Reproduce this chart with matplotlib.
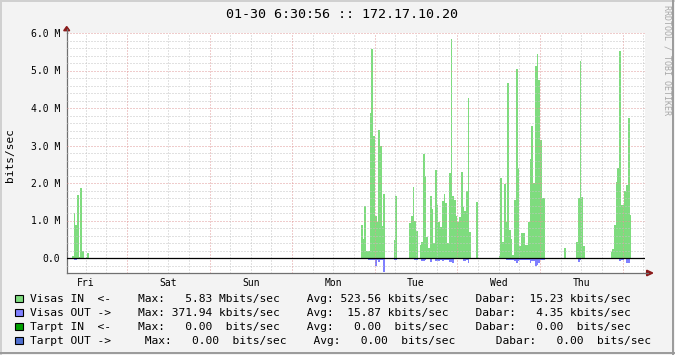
import numpy as np
import matplotlib
matplotlib.use('Agg')
import matplotlib.pyplot as plt
from matplotlib.patches import Rectangle, Polygon
from matplotlib.lines import Line2D

W, H = 675, 355

#------------------------ data: Mbit/s, 30 min averages ------------------------
N_SLOTS = 336                       # 7 days * 48 half hours
STEP_H = 0.5
START_H = 6 + 30/60 + 56/3600       # graph starts at 06:30:56

days = ['Fri', 'Sat', 'Sun', 'Mon', 'Tue', 'Wed', 'Thu']

fri_slot = 3
fri_in  = [0.05, 1.19, 0.88, 1.68, 0.02, 1.88, 0.20, 0.0, 0.02, 0.13]
fri_out = [0.0, 0.04, 0.04, 0.03, 0.0, 0.03, 0.0, 0.0, 0.0, 0.0]

mon_slot = 171
mon_in  = [0.88, 0.52, 1.40, 0.20, 0.20, 3.88, 5.57, 3.25, 1.12, 0.97, 3.41, 3.00, 0.85, 1.70,
           0, 0, 0, 0, 0, 0.48, 1.65]
mon_out = [0.0, 0.0, 0.03, 0.0, 0.05, 0.05, 0.05, 0.05, 0.20, 0.05, 0.10, 0.05, 0.05, 0.37,
           0, 0, 0, 0, 0, 0.04, 0.04]

tue_slot = 199
tue_in  = [0.94, 1.12, 1.90, 1.00, 0.72, 0.0, 0.36, 0.43, 2.77, 2.19, 0.55, 0.28, 1.65, 1.30,
           0.39, 2.34, 1.41, 0.97, 0.84, 1.52, 1.72, 1.48, 0.41, 2.26, 5.84, 1.65, 1.56, 1.12,
           0.97, 1.10, 2.30, 1.37, 1.26, 1.80, 4.27, 0.70, 0, 0, 0, 1.50]
tue_out = [0.03, 0.03, 0.03, 0.05, 0.05, 0.03, 0.03, 0.08, 0.08, 0.05, 0.03, 0.03, 0.10, 0.03,
           0.03, 0.08, 0.08, 0.08, 0.05, 0.08, 0.05, 0.05, 0.05, 0.10, 0.10, 0.14, 0.03, 0.03,
           0.03, 0.03, 0.03, 0.08, 0.08, 0.05, 0.12, 0.03, 0, 0, 0, 0.03]

wed_slot = 251
wed_in  = [0.05, 2.13, 0.43, 1.97, 0.95, 4.68, 0.75, 0.50, 0.09, 1.55, 5.04, 2.40, 0.32, 0.68,
           0.68, 0.35, 0.35, 0.97, 2.64, 3.52, 1.99, 5.12, 5.44, 4.75, 3.15, 1.60, 1.60]
wed_out = [0.03, 0.03, 0.03, 0.03, 0.05, 0.05, 0.05, 0.05, 0.05, 0.08, 0.14, 0.08, 0.05, 0.05,
           0.05, 0.05, 0.05, 0.05, 0.14, 0.08, 0.08, 0.21, 0.19, 0.12, 0.05, 0.05, 0.05]

thu_slot = 289
thu_in  = [0.27, 0, 0, 0, 0, 0, 0, 0.43, 1.61, 5.25, 1.64, 0.32]
thu_out = [0.0, 0, 0, 0, 0, 0, 0, 0.03, 0.10, 0.05, 0.03, 0.0]

thu2_slot = 316
thu2_in  = [0.17, 0.24, 0.89, 2.02, 2.41, 5.52, 1.41, 1.41, 1.79, 1.95, 3.73, 1.15]
thu2_out = [0.03, 0.03, 0.03, 0.03, 0.03, 0.08, 0.05, 0.05, 0.03, 0.12, 0.12, 0.03]

# legend statistics
leg_names = ['Visas IN  <-', 'Visas OUT ->', 'Tarpt IN  <-', 'Tarpt OUT ->']
leg_max = [('5.83', 'Mbits/sec'), ('371.94', 'kbits/sec'), ('0.00', 'bits/sec'), ('0.00', 'bits/sec')]
leg_avg = [('523.56', 'kbits/sec'), ('15.87', 'kbits/sec'), ('0.00', 'bits/sec'), ('0.00', 'bits/sec')]
leg_cur = [('15.23', 'kbits/sec'), ('4.35', 'kbits/sec'), ('0.00', 'bits/sec'), ('0.00', 'bits/sec')]
leg_colors = ['#7EDC7E', '#8080FF', '#00A000', '#5070D0']

title = '01-30 6:30:56 :: 172.17.10.20'

#------------------------ build series ------------------------
visas_in = np.zeros(N_SLOTS)
visas_out = np.zeros(N_SLOTS)
for s, vi, vo in [(fri_slot, fri_in, fri_out), (mon_slot, mon_in, mon_out),
                  (tue_slot, tue_in, tue_out), (wed_slot, wed_in, wed_out),
                  (thu_slot, thu_in, thu_out), (thu2_slot, thu2_in, thu2_out)]:
    visas_in[s:s+len(vi)] = vi
    visas_out[s:s+len(vo)] = vo

edges = np.arange(N_SLOTS + 1) * STEP_H

def fx(x):
    return x / W

def fy(y):
    return 1 - y / H

MONO = 'DejaVu Sans Mono'
plt.rcParams['font.family'] = MONO

fig = plt.figure(figsize=(W/100, H/100), dpi=100, facecolor='#F3F3F3')
X0, X1, Y0, Y1 = 66.7, 645.0, 33.0, 273.0
ax = fig.add_axes([fx(X0), fy(Y1), fx(X1) - fx(X0), (Y1 - Y0) / H])
ax.set_facecolor('white')

ax.stairs(visas_in, edges, baseline=0, fill=True, color=leg_colors[0], lw=0,
          antialiased=False, zorder=2)
ax.stairs(-visas_out, edges, baseline=0, fill=True, color=leg_colors[1], lw=0,
          antialiased=False, zorder=2)

# grid over the data, like rrdtool
dot = (0, (1, 2))
for v in np.arange(-0.4, 6.01, 0.2):
    major = abs(v - round(v)) < 1e-6
    ax.axhline(v, color='#E09A9A' if major else '#C4C4C4', lw=0.72, ls=dot, zorder=3)

first_noon = 12 - START_H
h = first_noon
while h < 168:
    midnight = abs(((h + START_H) % 24)) < 1e-6
    ax.axvline(h, color='#E09A9A' if midnight else '#C4C4C4', lw=0.72, ls=dot, zorder=3)
    h += 6

ax.axhline(0, color='black', lw=0.9, zorder=4)

ax.set_xlim(0, 168)
ax.set_ylim(-0.4, 6.0)

yt = np.arange(0, 7)
ax.set_yticks(yt)
ax.set_yticklabels(['0.0'] + ['%d.0 M' % v for v in yt[1:]], fontsize=7)
noons = first_noon + 24 * np.arange(len(days))
ax.set_xticks(noons)
ax.set_xticklabels(days, fontsize=7)
ax.tick_params(length=0)
ax.tick_params(axis='y', pad=4.6)
ax.tick_params(axis='x', pad=3.5)

for side in ['top', 'right']:
    ax.spines[side].set_visible(False)
for side in ['left', 'bottom']:
    ax.spines[side].set_color('#707070')
    ax.spines[side].set_linewidth(0.9)

ax.set_ylabel('bits/sec', fontsize=8)
ax.yaxis.set_label_coords((15 - X0) / (X1 - X0), 0.49)

# axis extensions and arrows
fig.add_artist(Line2D([fx(X0), fx(X0)], [fy(Y0), fy(29)], color='#707070', lw=0.9))
fig.add_artist(Line2D([fx(X1), fx(648)], [fy(Y1), fy(Y1)], color='#707070', lw=0.9))
fig.add_artist(Polygon([[fx(63.7), fy(30.7)], [fx(69.7), fy(30.7)], [fx(66.7), fy(26.5)]],
                       closed=True, color='#8B1A1A', transform=fig.transFigure))
fig.add_artist(Polygon([[fx(646.7), fy(270.2)], [fx(646.7), fy(275.8)], [fx(652.7), fy(273)]],
                       closed=True, color='#8B1A1A', transform=fig.transFigure))

# title and side text
fig.text(fx(342), fy(14), title, ha='center', va='center', fontsize=9.6, color='black')
fig.text(fx(666.5), fy(60), 'RRDTOOL / TOBI OETIKER', rotation=270, ha='center', va='center',
         fontsize=6, color='#A8A8A8')

# legend, monospaced rows like rrdtool GPRINT
row_y = [298.5, 312.5, 326.5, 340.5]
gaps = [(4, 4, 4), (4, 4, 4), (4, 4, 4), (5, 4, 6)]
for i in range(4):
    y = row_y[i]
    fig.add_artist(Rectangle((fx(15), fy(y + 3.8)), 7.5 / W, 7.5 / H, facecolor=leg_colors[i],
                             edgecolor='black', lw=0.8, transform=fig.transFigure))
    g1, g2, g3 = gaps[i]
    line = (leg_names[i] + ' ' * g1 +
            'Max: %6s %9s' % leg_max[i] + ' ' * g2 +
            'Avg: %6s %9s' % leg_avg[i] + ' ' * g3 +
            'Dabar: %6s %9s' % leg_cur[i])
    fig.text(fx(30.5), fy(y), line, ha='left', va='center', fontsize=8.1, color='black')

# outer frame
fig.add_artist(Line2D([0, 1], [fy(0.8), fy(0.8)], color='#D0D0D0', lw=1.4))
fig.add_artist(Line2D([fx(0.8), fx(0.8)], [0, 1], color='#D0D0D0', lw=1.4))
fig.add_artist(Line2D([fx(672.8), fx(672.8)], [fy(353.5), 1], color='#9A9A9A', lw=1.4))
fig.add_artist(Line2D([0, fx(673.5)], [fy(353.2), fy(353.2)], color='#9A9A9A', lw=1.4))

fig.savefig('out.png', dpi=100, facecolor=fig.get_facecolor())
